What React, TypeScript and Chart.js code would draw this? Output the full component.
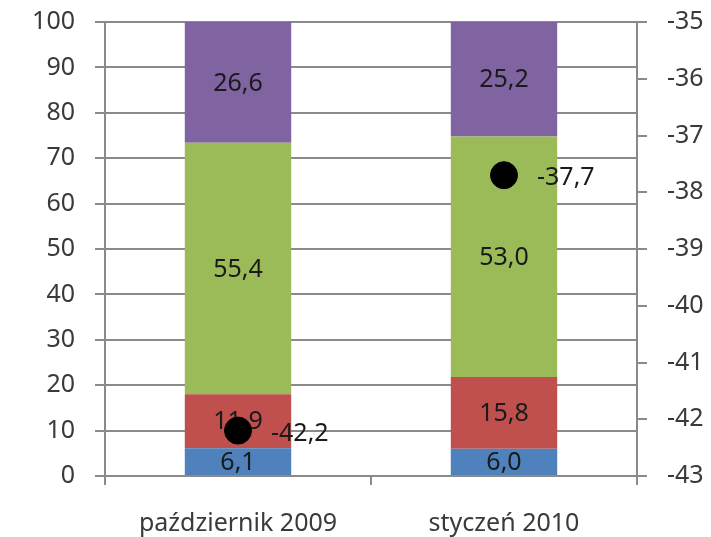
import React, { useEffect, useRef } from "react";
import { Chart, registerables } from "chart.js";

Chart.register(...registerables);

const categories = ["październik 2009", "styczeń 2010"];
const blueValues = [6.1, 6.0];
const redValues = [11.9, 15.8];
const greenValues = [55.4, 53.0];
const purpleValues = [26.6, 25.2];
const pointValues = [-42.2, -37.7];

const fmt = (v: number) => v.toFixed(1).replace(".", ",");

const FONT = "'Noto Sans', sans-serif";

const labelPlugin = {
  id: "inlineLabels",
  afterDatasetDraw(chart: any, args: any) {
    const ctx = chart.ctx;
    const meta = args.meta;
    const ds = chart.data.datasets[args.index];
    ctx.save();
    ctx.font = `25px ${FONT}`;
    ctx.fillStyle = "#1a1a1a";
    ctx.textBaseline = "middle";
    meta.data.forEach((el: any, i: number) => {
      const v = ds.data[i] as number;
      if (meta.type === "bar") {
        ctx.textAlign = "center";
        ctx.fillText(fmt(v), el.x, (el.y + el.base) / 2 + 1);
      } else {
        ctx.textAlign = "left";
        ctx.fillText(fmt(v), el.x + 33, el.y + 3);
      }
    });
    ctx.restore();
  },
};

export default function App() {
  const ref = useRef<HTMLCanvasElement>(null);
  useEffect(() => {
    document.body.style.margin = "0";
    const gray = "#8a8a8a";
    const fitY = (w: number) => (s: any) => {
      s.width = w;
      s.paddingTop = 22;
      s.paddingBottom = 0;
    };
    const chart = new Chart(ref.current!, {
      type: "bar",
      data: {
        labels: categories,
        datasets: [
          {
            type: "line",
            data: pointValues,
            yAxisID: "y1",
            showLine: false,
            pointRadius: 13.5,
            pointBackgroundColor: "#000",
            pointBorderColor: "#000",
            order: 0,
          } as any,
          { data: blueValues, backgroundColor: "#4F81BD", order: 1, stack: "s" },
          { data: redValues, backgroundColor: "#C0504D", order: 1, stack: "s" },
          { data: greenValues, backgroundColor: "#9BBB59", order: 1, stack: "s" },
          { data: purpleValues, backgroundColor: "#8064A2", order: 1, stack: "s" },
        ],
      },
      options: {
        animation: false,
        responsive: true,
        maintainAspectRatio: false,
        layout: { padding: { top: 22, left: 0, right: 0, bottom: 0 } },
        datasets: { bar: { categoryPercentage: 1, barPercentage: 0.4 } },
        plugins: { legend: { display: false }, tooltip: { enabled: false } },
        scales: {
          x: {
            stacked: true,
            afterFit: (s: any) => { s.height = 61; s.paddingLeft = 0; s.paddingRight = 0; },
            grid: { drawOnChartArea: false, drawTicks: true, tickLength: 9, color: gray, lineWidth: 2, offset: true },
            border: { display: true, color: gray, width: 2 },
            ticks: { color: "#3a3a3a", font: { size: 25, family: FONT }, padding: 24 },
          },
          y: {
            stacked: true,
            position: "left",
            min: 0,
            max: 100,
            afterFit: fitY(105),
            ticks: { stepSize: 10, color: "#3a3a3a", font: { size: 25, family: FONT }, padding: 20 },
            grid: { color: gray, lineWidth: 2, tickLength: 10 },
            border: { display: true, color: gray, width: 2 },
          },
          y1: {
            position: "right",
            min: -43,
            max: -35,
            afterFit: fitY(74),
            ticks: { stepSize: 1, color: "#3a3a3a", font: { size: 25, family: FONT }, padding: 20 },
            grid: { drawOnChartArea: false, color: gray, lineWidth: 2, tickLength: 10 },
            border: { display: true, color: gray, width: 2 },
          },
        },
      },
      plugins: [labelPlugin],
    } as any);
    return () => chart.destroy();
  }, []);
  return (
    <div style={{ width: 711, height: 537, position: "relative" }}>
      <canvas ref={ref} />
    </div>
  );
}
